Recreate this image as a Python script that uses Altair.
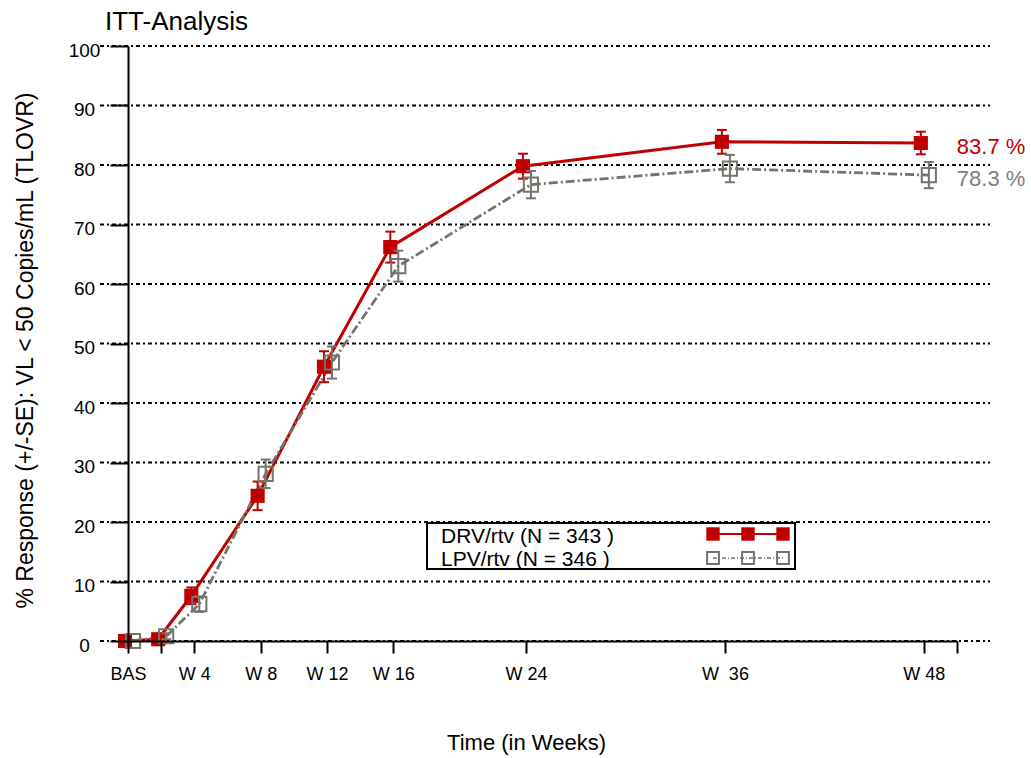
import altair as alt
import pandas as pd

# ---------------- data ----------------
WEEKS = [0, 2, 4, 8, 12, 16, 24, 36, 48]
DRV_PCT = [0.0, 0.3, 7.6, 24.4, 46.1, 66.2, 79.8, 83.9, 83.7]
DRV_SE = [0.0, 0.4, 1.4, 2.4, 2.6, 2.6, 2.1, 2.0, 1.9]
LPV_PCT = [0.0, 0.8, 6.2, 28.1, 46.8, 63.0, 76.7, 79.4, 78.3]
LPV_SE = [0.0, 0.5, 1.3, 2.4, 2.7, 2.6, 2.3, 2.3, 2.2]
SERIES = ["DRV/rtv", "LPV/rtv"]
N_PATIENTS = [343, 346]
END_LABELS = ["83.7 %", "78.3 %"]
X_TICKS = [0, 2, 4, 8, 12, 16, 24, 36, 48, 50]
X_TICK_LABELS = ["BAS", "", "W 4", "W 8", "W 12", "W 16", "W 24", "W\u00a0\u00a036", "W 48", ""]
Y_TICKS = [0, 10, 20, 30, 40, 50, 60, 70, 80, 90, 100]

# ---------------- styles ----------------
RED = "#C00000"
GRAY = "#74746c"
FONT = "Liberation Sans"
W, H = 829, 595
DRV_OFF, LPV_OFF = -3, 5


def make_df(pcts, ses, name):
    return pd.DataFrame({
        "week": WEEKS,
        "pct": pcts,
        "lo": [p - s for p, s in zip(pcts, ses)],
        "hi": [p + s for p, s in zip(pcts, ses)],
        "series": name,
    })


drv = make_df(DRV_PCT, DRV_SE, SERIES[0])
lpv = make_df(LPV_PCT, LPV_SE, SERIES[1])

label_expr = " : ".join(
    f"datum.value == {v} ? '{l}'" for v, l in zip(X_TICKS, X_TICK_LABELS)
) + " : ''"

X_AXIS = alt.Axis(
    values=X_TICKS, labelExpr=label_expr, title="Time (in Weeks)", grid=False,
    tickSize=12, labelPadding=12, labelFlush=False, labelOverlap=False,
    labelFontSize=18, labelFont=FONT, labelColor="black",
    titleFontSize=22, titleFont=FONT, titleFontWeight="normal", titleColor="black",
    titleX=398, titleY=108, titleAlign="center", titleBaseline="alphabetic",
    domainColor="black", domainWidth=2, tickColor="black", tickWidth=2, zindex=1,
)
Y_AXIS = alt.Axis(
    values=Y_TICKS, title="% Response (+/-SE): VL < 50 Copies/mL (TLOVR)", grid=False,
    tickSize=18, labelPadding=26, labelAlign="center", labelBaseline="middle",
    labelOffset=4, labelFlush=False, labelOverlap=False,
    labelFontSize=19, labelFont=FONT, labelColor="black",
    titleFontSize=23, titleFont=FONT, titleFontWeight="normal", titleColor="black",
    titleX=-96, titleY=304, titleAlign="center", titleBaseline="alphabetic", titleAngle=270,
    domainColor="black", domainWidth=2, tickColor="black", tickWidth=2, zindex=1,
)


def xenc(field="week"):
    return alt.X(f"{field}:Q", scale=alt.Scale(domain=[0, 50], nice=False, zero=False), axis=X_AXIS)


def yenc(field="pct"):
    return alt.Y(f"{field}:Q", scale=alt.Scale(domain=[0, 100], nice=False, zero=False), axis=Y_AXIS)


CAP_SHAPE = "M-1,0L1,0"

# grid lines (dash-dot), extending beyond the plot as in the reference
grid = alt.Chart(pd.DataFrame({"g": Y_TICKS})).mark_rule(
    color="black", strokeWidth=1.8, strokeDash=[4, 3, 2, 3]
).encode(y=yenc("g"), x=alt.value(-28), x2=alt.value(862))


def series_layers(df, color, off, filled, dash=None, lw=3):
    line_kwargs = dict(color=color, strokeWidth=lw, xOffset=off)
    if dash:
        line_kwargs["strokeDash"] = dash
    line = alt.Chart(df).mark_line(**line_kwargs).encode(x=xenc(), y=yenc())
    err = alt.Chart(df).mark_rule(color=color, strokeWidth=2, xOffset=off).encode(
        x=xenc(), y=yenc("lo"), y2="hi")
    caps = alt.Chart(df).transform_fold(["lo", "hi"], as_=["k", "v"]).mark_point(
        shape=CAP_SHAPE, size=100, filled=False, strokeWidth=2, color=color,
        opacity=1, xOffset=off).encode(x=xenc(), y=yenc("v"))
    if filled:
        pts = alt.Chart(df).mark_point(shape="square", size=200, filled=True, color=color,
                                       opacity=1, xOffset=off).encode(x=xenc(), y=yenc())
    else:
        pts = alt.Chart(df).mark_point(shape="square", size=200, filled=False, color=color,
                                       strokeWidth=2, opacity=1, xOffset=off).encode(x=xenc(), y=yenc())
    return line, err, caps, pts


drv_line, drv_err, drv_caps, drv_pts = series_layers(drv, RED, DRV_OFF, True, lw=3)
lpv_line, lpv_err, lpv_caps, lpv_pts = series_layers(lpv, GRAY, LPV_OFF, False, dash=[9, 3, 2, 3], lw=2.8)

end_df = pd.DataFrame({"week": [48, 48], "pct": [DRV_PCT[-1], LPV_PCT[-1]],
                       "label": END_LABELS, "series": SERIES})
end_labels = alt.Chart(end_df).mark_text(align="left", baseline="middle", dx=33, dy=4,
                                         fontSize=22, font=FONT).encode(
    x=xenc(), y=yenc(), text="label:N",
    color=alt.Color("series:N", scale=alt.Scale(domain=SERIES, range=[RED, "#808080"]), legend=None),
)

one = alt.Data(values=[{"a": 1}])

# custom legend box
leg_box = alt.Chart(one).mark_rect(fill="white", stroke="black", strokeWidth=2).encode(
    x=alt.value(299), x2=alt.value(667), y=alt.value(477), y2=alt.value(523))
leg_layers = [leg_box]
ROW_Y = [491, 514]
SYM_Y = [488, 512]
SYM_X = [585, 620, 655]
for i, (name, n) in enumerate(zip(SERIES, N_PATIENTS)):
    leg_layers.append(alt.Chart(one).mark_text(
        text=f"{name} (N = {n} )", align="left", baseline="middle", fontSize=21,
        font=FONT, color="black").encode(x=alt.value(313), y=alt.value(ROW_Y[i])))
    if i == 0:
        leg_layers.append(alt.Chart(one).mark_rule(color=RED, strokeWidth=2).encode(
            x=alt.value(SYM_X[0]), x2=alt.value(SYM_X[-1]), y=alt.value(SYM_Y[i])))
    else:
        leg_layers.append(alt.Chart(one).mark_rule(color=GRAY, strokeWidth=1.5,
                                                   strokeDash=[4, 2, 1, 2]).encode(
            x=alt.value(SYM_X[0]), x2=alt.value(SYM_X[-1]), y=alt.value(SYM_Y[i])))
    for sx in SYM_X:
        if i == 0:
            leg_layers.append(alt.Chart(one).mark_point(
                shape="square", size=180, filled=True, color=RED, opacity=1).encode(
                x=alt.value(sx), y=alt.value(SYM_Y[i])))
        else:
            leg_layers.append(alt.Chart(one).mark_point(
                shape="square", size=140, filled=False, color=GRAY, strokeWidth=2,
                opacity=1).encode(x=alt.value(sx), y=alt.value(SYM_Y[i])))

title = alt.Chart(one).mark_text(text="ITT-Analysis", align="left", baseline="alphabetic",
                                 fontSize=26, font=FONT, color="black").encode(
    x=alt.value(-23), y=alt.value(-16))

chart = alt.layer(
    grid, drv_line, lpv_line, drv_err, drv_caps, drv_pts, lpv_err, lpv_caps, lpv_pts,
    end_labels, *leg_layers, title,
).properties(
    width=W, height=H,
    padding={"left": 128, "top": 46, "right": 74, "bottom": 117},
    autosize=alt.AutoSizeParams(type="none"),
    background="white",
).configure_view(stroke=None)

chart.save("out.html", embed_options={"renderer": "svg", "actions": False})
